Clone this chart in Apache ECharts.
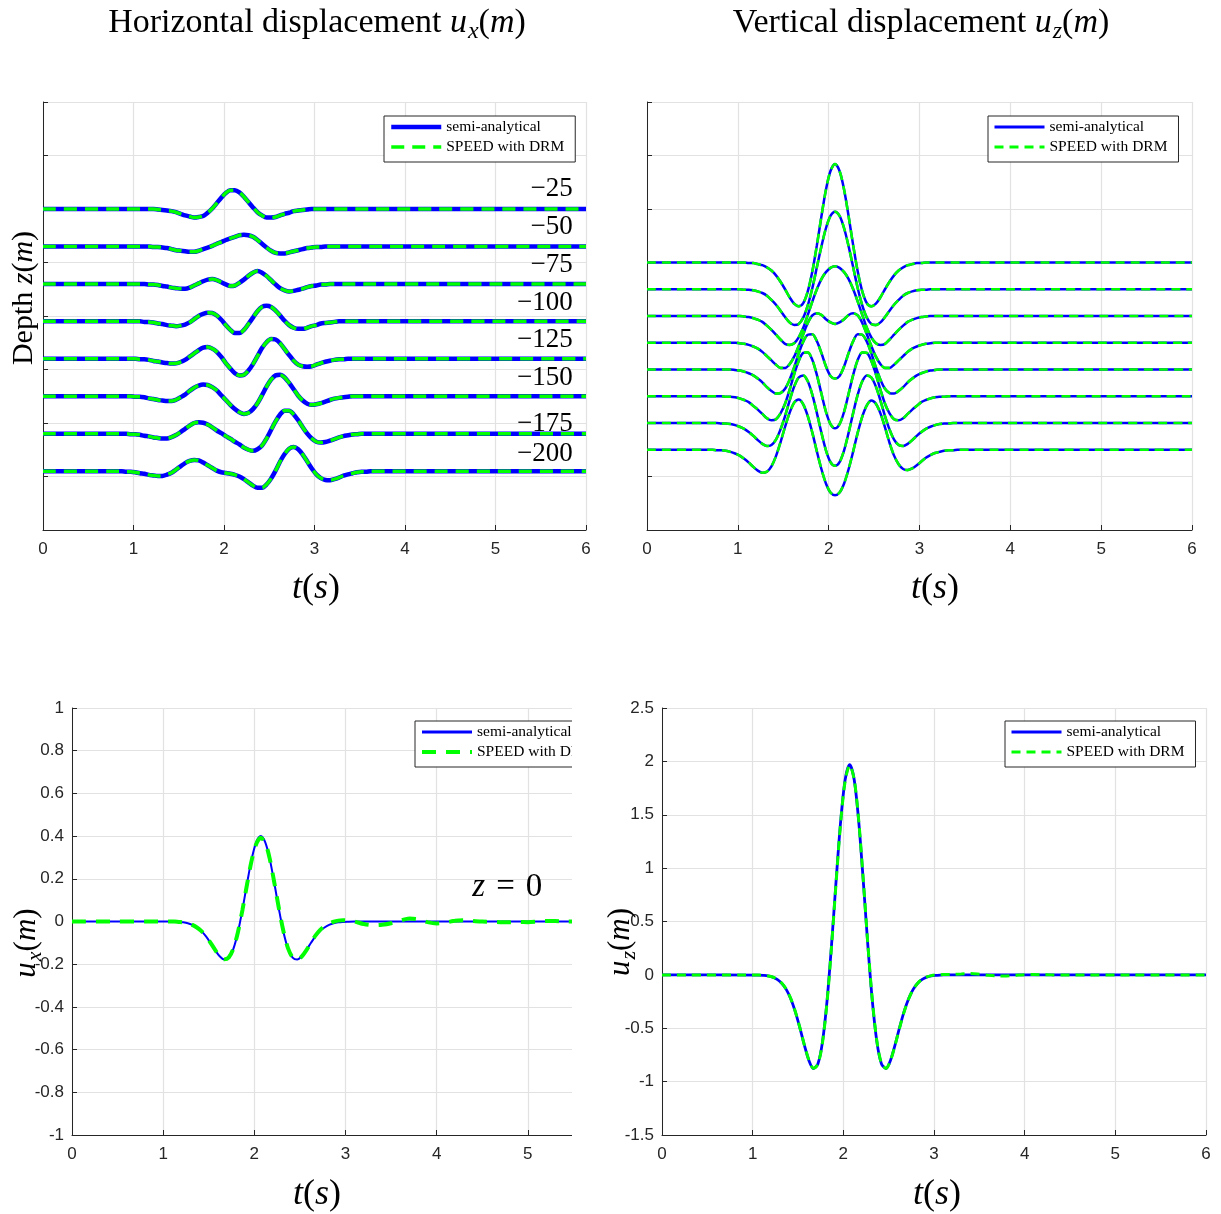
<!DOCTYPE html>
<html>
<head>
<meta charset="utf-8">
<title>Displacement time histories</title>
<script src="https://cdn.jsdelivr.net/npm/echarts/dist/echarts.min.js"></script>
<style>
  html, body { margin: 0; padding: 0; background: #ffffff; }
  #chart { width: 1221px; height: 1214px; }
</style>
</head>
<body>
<div id="chart"></div>
<script>
// ---------------------------------------------------------------------------
// Data: displacement time histories (s, m)
// ---------------------------------------------------------------------------

// common sampling times of the depth traces
const TIME = [0,
  0.72, 0.77, 0.82, 0.87, 0.92, 0.97, 1.02, 1.07, 1.12, 1.17,
  1.22, 1.27, 1.32, 1.37, 1.42, 1.47, 1.52, 1.57, 1.62, 1.67,
  1.72, 1.77, 1.82, 1.87, 1.92, 1.97, 2.02, 2.07, 2.12, 2.17,
  2.22, 2.27, 2.32, 2.37, 2.42, 2.47, 2.52, 2.57, 2.62, 2.67,
  2.72, 2.77, 2.82, 2.87, 2.92, 2.97, 3.02, 3.07, 3.12, 3.17,
  3.22, 3.27, 3.32, 3.37, 3.42, 3.47, 3.52, 3.57, 3.62,
  6];

// receiver depths z (m)
const DEPTHS = [-25, -50, -75, -100, -125, -150, -175, -200];

// vertical placement of each trace in the stacked panels
const UX_OFFSET = [6.0, 5.3, 4.6, 3.9, 3.2, 2.5, 1.8, 1.1];
const UZ_OFFSET = [5.0, 4.5, 4.0, 3.5, 3.0, 2.5, 2.0, 1.5];

// horizontal displacement u_x at depth
const UX_25 = [0,
  0, 0, 0, 0, 0, 0, 0, 0, 0, 0,
  0, -0.01, -0.02, -0.03, -0.04, -0.06, -0.09, -0.12, -0.14, -0.16,
  -0.15, -0.13, -0.07, 0.01, 0.11, 0.21, 0.30, 0.35, 0.35, 0.31,
  0.23, 0.13, 0.03, -0.06, -0.12, -0.16, -0.16, -0.15, -0.12, -0.09,
  -0.07, -0.04, -0.03, -0.02, -0.01, 0, 0, 0, 0, 0,
  0, 0, 0, 0, 0, 0, 0, 0, 0,
  0];
const UX_50 = [0,
  0, 0, 0, 0, 0, 0, 0, 0, 0, 0,
  -0.01, -0.01, -0.02, -0.03, -0.05, -0.07, -0.08, -0.09, -0.10, -0.10,
  -0.08, -0.05, -0.02, 0.01, 0.05, 0.08, 0.12, 0.15, 0.18, 0.21,
  0.22, 0.21, 0.18, 0.12, 0.05, -0.02, -0.08, -0.12, -0.13, -0.13,
  -0.11, -0.09, -0.07, -0.05, -0.03, -0.02, -0.01, -0.01, 0, 0,
  0, 0, 0, 0, 0, 0, 0, 0, 0,
  0];
const UX_75 = [0,
  0, 0, 0, 0, 0, 0, 0, 0, 0, -0.01,
  -0.01, -0.02, -0.04, -0.05, -0.07, -0.08, -0.09, -0.09, -0.07, -0.03,
  0.01, 0.05, 0.08, 0.09, 0.07, 0.03, -0.01, -0.04, -0.03, 0.02,
  0.08, 0.15, 0.21, 0.24, 0.21, 0.15, 0.07, -0.01, -0.08, -0.12,
  -0.14, -0.13, -0.11, -0.09, -0.06, -0.04, -0.03, -0.01, -0.01, 0,
  0, 0, 0, 0, 0, 0, 0, 0, 0,
  0];
const UX_100 = [0,
  0, 0, 0, 0, 0, 0, 0, 0, -0.01, -0.01,
  -0.02, -0.04, -0.05, -0.07, -0.08, -0.09, -0.08, -0.06, -0.02, 0.04,
  0.10, 0.14, 0.16, 0.155, 0.11, 0.03, -0.07, -0.16, -0.22, -0.22,
  -0.16, -0.05, 0.07, 0.19, 0.27, 0.29, 0.27, 0.20, 0.11, 0.01,
  -0.07, -0.12, -0.14, -0.14, -0.12, -0.09, -0.07, -0.04, -0.03, -0.02,
  -0.01, 0, 0, 0, 0, 0, 0, 0, 0,
  0];
const UX_125 = [0,
  0, 0, 0, 0, 0, 0, 0, -0.01, -0.01, -0.02,
  -0.04, -0.05, -0.07, -0.08, -0.09, -0.085, -0.06, -0.02, 0.04, 0.10,
  0.16, 0.21, 0.22, 0.19, 0.13, 0.035, -0.08, -0.18, -0.27, -0.31,
  -0.30, -0.22, -0.10, 0.05, 0.20, 0.31, 0.37, 0.36, 0.29, 0.18,
  0.07, -0.035, -0.11, -0.14, -0.15, -0.14, -0.11, -0.08, -0.055, -0.035,
  -0.02, -0.01, -0.01, 0, 0, 0, 0, 0, 0,
  0];
const UX_150 = [0,
  0, 0, 0, 0, 0, 0, -0.01, -0.01, -0.02, -0.04,
  -0.05, -0.07, -0.08, -0.09, -0.09, -0.065, -0.02, 0.03, 0.10, 0.16,
  0.20, 0.22, 0.21, 0.17, 0.11, 0.02, -0.07, -0.16, -0.24, -0.30,
  -0.33, -0.31, -0.24, -0.13, 0.02, 0.18, 0.31, 0.39, 0.40, 0.35,
  0.25, 0.13, 0.01, -0.08, -0.14, -0.16, -0.15, -0.13, -0.10, -0.07,
  -0.045, -0.03, -0.02, -0.01, 0, 0, 0, 0, 0,
  0];
const UX_175 = [0,
  0, 0, 0, 0, 0, -0.01, -0.01, -0.02, -0.04, -0.05,
  -0.07, -0.08, -0.09, -0.09, -0.065, -0.025, 0.03, 0.09, 0.15, 0.20,
  0.215, 0.205, 0.17, 0.12, 0.06, 0.01, -0.045, -0.095, -0.15, -0.20,
  -0.26, -0.30, -0.32, -0.29, -0.22, -0.09, 0.07, 0.23, 0.36, 0.43,
  0.43, 0.36, 0.25, 0.12, 0, -0.09, -0.15, -0.165, -0.155, -0.13,
  -0.10, -0.07, -0.045, -0.03, -0.015, -0.01, 0, 0, 0,
  0];
const UX_200 = [0,
  0, 0, 0, 0, -0.01, -0.01, -0.02, -0.04, -0.05, -0.07,
  -0.08, -0.09, -0.09, -0.065, -0.03, 0.03, 0.09, 0.15, 0.19, 0.21,
  0.20, 0.16, 0.11, 0.06, 0.01, -0.02, -0.035, -0.05, -0.07, -0.10,
  -0.15, -0.21, -0.27, -0.31, -0.31, -0.25, -0.14, 0.01, 0.18, 0.32,
  0.42, 0.45, 0.41, 0.31, 0.18, 0.05, -0.06, -0.13, -0.165, -0.17,
  -0.15, -0.12, -0.085, -0.06, -0.04, -0.02, -0.01, -0.01, 0,
  0];

// vertical displacement u_z at depth
const UZ_25 = [0,
  0, 0, 0, 0, 0, 0, 0, 0, -0.01, -0.01,
  -0.03, -0.05, -0.09, -0.15, -0.24, -0.36, -0.50, -0.65, -0.77, -0.82,
  -0.76, -0.54, -0.17, 0.32, 0.86, 1.36, 1.71, 1.84, 1.71, 1.36,
  0.86, 0.32, -0.17, -0.54, -0.76, -0.82, -0.77, -0.65, -0.50, -0.36,
  -0.24, -0.15, -0.09, -0.05, -0.03, -0.01, -0.01, 0, 0, 0,
  0, 0, 0, 0, 0, 0, 0, 0, 0,
  0];
const UZ_50 = [0,
  0, 0, 0, 0, 0, 0, 0, -0.01, -0.01, -0.02,
  -0.04, -0.07, -0.12, -0.20, -0.29, -0.40, -0.52, -0.62, -0.67, -0.65,
  -0.53, -0.30, 0.02, 0.41, 0.80, 1.14, 1.37, 1.45, 1.37, 1.14,
  0.80, 0.41, 0.02, -0.30, -0.53, -0.65, -0.67, -0.62, -0.52, -0.40,
  -0.29, -0.20, -0.12, -0.07, -0.04, -0.02, -0.01, -0.01, 0, 0,
  0, 0, 0, 0, 0, 0, 0, 0, 0,
  0];
const UZ_75 = [0,
  0, 0, 0, 0, 0, 0, 0, -0.01, -0.02, -0.04,
  -0.07, -0.11, -0.18, -0.26, -0.35, -0.44, -0.52, -0.54, -0.51, -0.40,
  -0.22, 0.02, 0.27, 0.50, 0.69, 0.82, 0.90, 0.93, 0.90, 0.82,
  0.69, 0.50, 0.27, 0.02, -0.22, -0.40, -0.51, -0.54, -0.52, -0.44,
  -0.35, -0.26, -0.18, -0.11, -0.07, -0.04, -0.02, -0.01, 0, 0,
  0, 0, 0, 0, 0, 0, 0, 0, 0,
  0];
const UZ_100 = [0,
  0, 0, 0, 0, 0, 0, -0.01, -0.02, -0.04, -0.07,
  -0.11, -0.17, -0.25, -0.33, -0.41, -0.47, -0.47, -0.40, -0.26, -0.06,
  0.16, 0.37, 0.51, 0.55, 0.52, 0.44, 0.38, 0.35, 0.38, 0.44,
  0.52, 0.55, 0.51, 0.37, 0.16, -0.06, -0.26, -0.40, -0.47, -0.47,
  -0.41, -0.33, -0.25, -0.17, -0.11, -0.07, -0.04, -0.02, -0.01, 0,
  0, 0, 0, 0, 0, 0, 0, 0, 0,
  0];
const UZ_125 = [0,
  0, 0, 0, 0, 0, -0.01, -0.02, -0.04, -0.07, -0.11,
  -0.17, -0.24, -0.33, -0.40, -0.45, -0.44, -0.36, -0.19, 0.04, 0.30,
  0.52, 0.65, 0.66, 0.53, 0.31, 0.06, -0.12, -0.17, -0.12, 0.06,
  0.31, 0.53, 0.66, 0.65, 0.52, 0.30, 0.04, -0.19, -0.36, -0.44,
  -0.45, -0.40, -0.33, -0.24, -0.17, -0.11, -0.07, -0.04, -0.02, -0.01,
  0, 0, 0, 0, 0, 0, 0, 0, 0,
  0];
const UZ_150 = [0,
  0, 0, 0, -0.01, -0.01, -0.02, -0.04, -0.07, -0.11, -0.18,
  -0.25, -0.33, -0.41, -0.45, -0.43, -0.32, -0.14, 0.12, 0.41, 0.66,
  0.81, 0.82, 0.68, 0.40, 0.05, -0.29, -0.52, -0.60, -0.52, -0.29,
  0.05, 0.40, 0.68, 0.82, 0.81, 0.66, 0.41, 0.12, -0.14, -0.32,
  -0.43, -0.45, -0.41, -0.33, -0.25, -0.18, -0.11, -0.07, -0.04, -0.02,
  -0.01, -0.01, 0, 0, 0, 0, 0, 0, 0,
  0];
const UZ_175 = [0,
  0, 0, -0.01, -0.01, -0.02, -0.04, -0.07, -0.11, -0.17, -0.24,
  -0.32, -0.39, -0.43, -0.41, -0.31, -0.12, 0.13, 0.42, 0.68, 0.85,
  0.89, 0.78, 0.53, 0.19, -0.18, -0.51, -0.73, -0.80, -0.73, -0.51,
  -0.18, 0.19, 0.53, 0.78, 0.89, 0.85, 0.68, 0.42, 0.13, -0.12,
  -0.31, -0.41, -0.43, -0.39, -0.32, -0.24, -0.17, -0.11, -0.07, -0.04,
  -0.02, -0.01, -0.01, 0, 0, 0, 0, 0, 0,
  0];
const UZ_200 = [0,
  0, -0.01, -0.01, -0.02, -0.04, -0.07, -0.11, -0.17, -0.24, -0.32,
  -0.39, -0.43, -0.41, -0.31, -0.12, 0.14, 0.43, 0.69, 0.88, 0.94,
  0.85, 0.63, 0.32, -0.03, -0.36, -0.63, -0.80, -0.85, -0.80, -0.63,
  -0.36, -0.03, 0.32, 0.62, 0.83, 0.92, 0.86, 0.68, 0.42, 0.13,
  -0.11, -0.27, -0.36, -0.38, -0.35, -0.29, -0.22, -0.15, -0.10, -0.06,
  -0.04, -0.02, -0.01, -0.01, 0, 0, 0, 0, 0,
  0];

// surface receiver (z = 0)
const TIME_Z0 = [0,
  1.07, 1.12, 1.17, 1.22, 1.27, 1.32, 1.37, 1.42, 1.47, 1.52,
  1.57, 1.62, 1.67, 1.72, 1.77, 1.82, 1.87, 1.92, 1.97, 2.02,
  2.07, 2.12, 2.17, 2.22, 2.27, 2.32, 2.37, 2.42, 2.47, 2.52,
  2.57, 2.62, 2.67, 2.72, 2.77, 2.82, 2.87, 2.92, 2.97, 3.02,
  3.1, 3.2, 3.3, 3.4, 3.5, 3.6, 3.7, 3.8, 3.9, 4.0, 4.1, 4.2,
  4.3, 4.4, 4.5, 4.6, 4.7, 4.8, 4.9, 5.0, 5.1, 5.2, 5.3, 5.4,
  6];
const UX0_SEMI = [0,
  0, -0.001, -0.002, -0.004, -0.008, -0.016, -0.028, -0.045, -0.070, -0.101,
  -0.134, -0.163, -0.178, -0.169, -0.128, -0.050, 0.057, 0.178, 0.291, 0.371,
  0.400, 0.371, 0.291, 0.178, 0.057, -0.050, -0.128, -0.169, -0.178, -0.163,
  -0.134, -0.101, -0.070, -0.045, -0.028, -0.016, -0.008, -0.004, -0.002, -0.001,
  0, 0, 0, 0, 0, 0, 0, 0, 0, 0, 0, 0,
  0, 0, 0, 0, 0, 0, 0, 0, 0, 0, 0, 0,
  0];
const UX0_DRM = [0,
  0, 0, -0.002, -0.004, -0.008, -0.016, -0.028, -0.045, -0.070, -0.100,
  -0.133, -0.162, -0.177, -0.168, -0.127, -0.050, 0.055, 0.174, 0.285, 0.362,
  0.392, 0.368, 0.292, 0.180, 0.060, -0.047, -0.126, -0.168, -0.178, -0.164,
  -0.135, -0.100, -0.066, -0.040, -0.022, -0.009, -0.001, 0.004, 0.006, 0.005,
  0, -0.012, -0.017, -0.015, -0.008, 0.004, 0.014, 0.010, -0.003, -0.009, -0.005, 0.004,
  0.006, 0.002, 0, -0.002, -0.003, -0.003, -0.002, -0.003, -0.001, 0.002, 0.002, 0,
  0];
const UZ0_SEMI = [0,
  -0.002, -0.005, -0.010, -0.021, -0.042, -0.078, -0.136, -0.224, -0.345, -0.495,
  -0.658, -0.801, -0.877, -0.833, -0.628, -0.247, 0.281, 0.878, 1.433, 1.827,
  1.970, 1.827, 1.433, 0.878, 0.281, -0.247, -0.628, -0.833, -0.877, -0.801,
  -0.658, -0.495, -0.345, -0.224, -0.136, -0.078, -0.042, -0.021, -0.010, -0.005,
  0, 0, 0, 0, 0, 0, 0, 0, 0, 0, 0, 0,
  0, 0, 0, 0, 0, 0, 0, 0, 0, 0, 0, 0,
  0];
const UZ0_DRM = [0,
  -0.002, -0.005, -0.010, -0.020, -0.040, -0.076, -0.134, -0.222, -0.343, -0.492,
  -0.655, -0.798, -0.875, -0.835, -0.635, -0.258, 0.266, 0.862, 1.420, 1.815,
  1.962, 1.830, 1.442, 0.890, 0.293, -0.236, -0.620, -0.828, -0.876, -0.803,
  -0.661, -0.498, -0.348, -0.226, -0.137, -0.078, -0.041, -0.019, -0.007, -0.001,
  0.003, 0.004, 0.008, 0.012, 0.006, -0.003, -0.009, -0.010, -0.004, 0.002, 0.003, 0.001,
  0, 0, 0, 0, 0, 0, 0, 0, 0, 0, 0, 0,
  0];

// ---------------------------------------------------------------------------
// Layout and styling
// ---------------------------------------------------------------------------
const UX_TRACES = [UX_25, UX_50, UX_75, UX_100, UX_125, UX_150, UX_175, UX_200];
const UZ_TRACES = [UZ_25, UZ_50, UZ_75, UZ_100, UZ_125, UZ_150, UZ_175, UZ_200];

const SERIF = "'Liberation Serif', 'Times New Roman', serif";
const SANS = "'Liberation Sans', Arial, Helvetica, sans-serif";
const AXIS_COLOR = '#262626';
const GRID_COLOR = '#e2e2e2';
const BLUE = '#0000ff';
const GREEN = '#00ff00';
const HIDDEN = 'rgba(0,0,0,0)';
const SEMI = 'semi-analytical';
const DRM = 'SPEED with DRM';

const GRIDS = [
  { left: 43, top: 102, width: 543, height: 428 },
  { left: 647, top: 102, width: 545, height: 428 },
  { left: 72, top: 708, width: 547, height: 427 },
  { left: 662, top: 708, width: 544, height: 427 }
];

// line appearance per panel
const PANEL_LINES = [
  { semi: { width: 4.5 }, drm: { width: 3.5, type: [13, 8] } },
  { semi: { width: 2.5 }, drm: { width: 2.6, type: [9, 6] } },
  { semi: { width: 2 }, drm: { width: 4, type: [14, 10] } },
  { semi: { width: 2.8 }, drm: { width: 3, type: [9, 6] } }
];

// depth labels sit a little above their trace
const LABEL_LIFT = [0.37, 0.37, 0.35, 0.35, 0.35, 0.35, 0.19, 0.33];
const LABEL_T = 5.86;

const Y_AXES = [
  { min: 0, max: 8, interval: 1, labels: false },
  { min: 0, max: 8, interval: 1, labels: false },
  { min: -1, max: 1, interval: 0.2, labels: true },
  { min: -1.5, max: 2.5, interval: 0.5, labels: true }
];

const tickStyle = { show: true, inside: true, length: 5, lineStyle: { color: AXIS_COLOR, width: 1 } };
const labelStyle = { fontFamily: SANS, fontSize: 17, color: AXIS_COLOR };

const xAxis = GRIDS.map((g, i) => ({
  type: 'value', gridIndex: i, min: 0, max: 6, interval: 1,
  axisLine: { show: true, onZero: false, lineStyle: { color: AXIS_COLOR, width: 1 } },
  axisTick: tickStyle,
  // the surface u_x panel is cut at t = 5.5, so its last label is not shown
  axisLabel: Object.assign({ show: true, margin: 11, showMaxLabel: i !== 2 }, labelStyle),
  splitLine: { show: true, lineStyle: { color: GRID_COLOR, width: 1.2 } }
}));

const yAxis = Y_AXES.map((a, i) => ({
  type: 'value', gridIndex: i, min: a.min, max: a.max, interval: a.interval,
  axisLine: { show: true, onZero: false, lineStyle: { color: AXIS_COLOR, width: 1 } },
  axisTick: tickStyle,
  axisLabel: Object.assign({ show: a.labels, margin: 8 }, labelStyle),
  splitLine: { show: true, lineStyle: { color: GRID_COLOR, width: 1.2 } }
}));

const series = [];

function lineSeries(panel, name, data, isDrm) {
  const st = isDrm ? PANEL_LINES[panel].drm : PANEL_LINES[panel].semi;
  return {
    type: 'line', name, xAxisIndex: panel, yAxisIndex: panel,
    data, symbol: 'none', showSymbol: false, smooth: 0.3,
    clip: true, silent: true, animation: false,
    emphasis: { disabled: true },
    z: isDrm ? 3 : 2,
    lineStyle: { color: isDrm ? GREEN : BLUE, width: st.width, type: st.type || 'solid' }
  };
}

const stack = (values, offset) => TIME.map((t, n) => [t, offset + values[n]]);
const pairs = (times, values) => times.map((t, n) => [t, values[n]]);

// stacked depth traces: semi-analytical first, the DRM solution on top
UX_TRACES.forEach((v, i) => series.push(lineSeries(0, SEMI, stack(v, UX_OFFSET[i]), false)));
UX_TRACES.forEach((v, i) => series.push(lineSeries(0, DRM, stack(v, UX_OFFSET[i]), true)));
UZ_TRACES.forEach((v, i) => series.push(lineSeries(1, SEMI, stack(v, UZ_OFFSET[i]), false)));
UZ_TRACES.forEach((v, i) => series.push(lineSeries(1, DRM, stack(v, UZ_OFFSET[i]), true)));

// surface receiver
series.push(lineSeries(2, SEMI, pairs(TIME_Z0, UX0_SEMI), false));
series.push(lineSeries(2, DRM, pairs(TIME_Z0, UX0_DRM), true));
series.push(lineSeries(3, SEMI, pairs(TIME_Z0, UZ0_SEMI), false));
series.push(lineSeries(3, DRM, pairs(TIME_Z0, UZ0_DRM), true));

const annotationLabel = {
  color: '#000000', opacity: 1, textBorderWidth: 0, textShadowBlur: 0, fontWeight: 'normal'
};

// depth annotations next to the horizontal traces
series.push({
  type: 'scatter', xAxisIndex: 0, yAxisIndex: 0, silent: true, animation: false,
  symbol: 'circle', symbolSize: 1, itemStyle: { color: HIDDEN, borderWidth: 0 }, z: 5,
  label: Object.assign({
    show: true, position: 'left', distance: 0, formatter: '{b}',
    fontFamily: SERIF, fontSize: 27
  }, annotationLabel),
  data: DEPTHS.map((d, i) => ({
    name: '\u2212' + Math.abs(d),
    value: [LABEL_T, UX_OFFSET[i] + LABEL_LIFT[i]]
  }))
});

// "z = 0" annotation of the surface panel
series.push({
  type: 'scatter', xAxisIndex: 2, yAxisIndex: 2, silent: true, animation: false,
  symbol: 'circle', symbolSize: 1, itemStyle: { color: HIDDEN, borderWidth: 0 }, z: 5,
  label: Object.assign({
    show: true, position: 'inside', formatter: '{i|z}{e|=}{r|0}',
    rich: {
      i: { fontFamily: SERIF, fontSize: 33, fontStyle: 'italic', color: '#000' },
      e: { fontFamily: SERIF, fontSize: 33, color: '#000', padding: [0, 11, 0, 11] },
      r: { fontFamily: SERIF, fontSize: 33, color: '#000' }
    }
  }, annotationLabel),
  data: [{ name: 'z0', value: [4.775, 0.16] }]
});

function legendBox(left, top, panel) {
  const st = PANEL_LINES[panel];
  return {
    left, top, orient: 'vertical', selectedMode: false,
    itemWidth: 50, itemHeight: 14, itemGap: 4, itemTextGap: 4,
    padding: [3, 11, 7, 5],
    backgroundColor: '#ffffff', borderColor: AXIS_COLOR, borderWidth: 1, borderRadius: 0,
    textStyle: { fontFamily: SERIF, fontSize: 15.5, color: '#000000', lineHeight: 14 },
    data: [
      { name: SEMI, itemStyle: { opacity: 0 },
        lineStyle: { color: BLUE, width: Math.max(st.semi.width, 3), type: 'solid' } },
      { name: DRM, itemStyle: { opacity: 0 },
        lineStyle: { color: GREEN, width: Math.max(st.drm.width, 3), type: st.drm.type } }
    ]
  };
}

function mathRich(size) {
  const base = { fontFamily: SERIF, fontSize: size, fill: '#000', color: '#000' };
  return {
    r: Object.assign({}, base),
    i: Object.assign({}, base, { fontStyle: 'italic' }),
    s: Object.assign({}, base, {
      fontSize: Math.round(size * 0.7), fontStyle: 'italic',
      padding: [Math.round(size * 0.5), 0, 0, 1]
    })
  };
}

function mathText(x, y, text, size, rotation) {
  return {
    type: 'text', x, y, rotation: rotation || 0, silent: true, z: 110,
    style: {
      x: 0, y: 0, text, rich: mathRich(size),
      align: 'center', verticalAlign: 'middle',
      fontFamily: SERIF, fontSize: size, fill: '#000'
    }
  };
}

const graphic = [
  // the surface u_x panel is cropped on its right side
  { type: 'rect', silent: true, z: 100,
    shape: { x: 572, y: 698, width: 52, height: 480 },
    style: { fill: '#ffffff' } },
  mathText(317, 23, '{r|Horizontal displacement }{i|u}{s|x}{r|(}{i|m}{r|)}', 34),
  mathText(921, 23, '{r|Vertical displacement }{i|u}{s|z}{r|(}{i|m}{r|)}', 34),
  mathText(316, 589, '{i|t}{r|(}{i|s}{r|)}', 36),
  mathText(935, 589, '{i|t}{r|(}{i|s}{r|)}', 36),
  mathText(317, 1195, '{i|t}{r|(}{i|s}{r|)}', 36),
  mathText(937, 1195, '{i|t}{r|(}{i|s}{r|)}', 36),
  mathText(24, 298, '{r|Depth }{i|z}{r|(}{i|m}{r|)}', 30, Math.PI / 2),
  mathText(27, 943, '{i|u}{s|x}{r|(}{i|m}{r|)}', 31, Math.PI / 2),
  mathText(621, 942, '{i|u}{s|z}{r|(}{i|m}{r|)}', 31, Math.PI / 2)
];

const chart = echarts.init(document.getElementById('chart'), null, { renderer: 'canvas' });
chart.setOption({
  backgroundColor: '#ffffff',
  animation: false,
  grid: GRIDS.map(g => Object.assign({ containLabel: false, outerBoundsMode: 'none' }, g)),
  xAxis,
  yAxis,
  legend: [
    legendBox(384, 116, 0),
    legendBox(988, 116, 1),
    legendBox(415, 721, 2),
    legendBox(1005, 721, 3)
  ],
  series,
  graphic
});
</script>
</body>
</html>
